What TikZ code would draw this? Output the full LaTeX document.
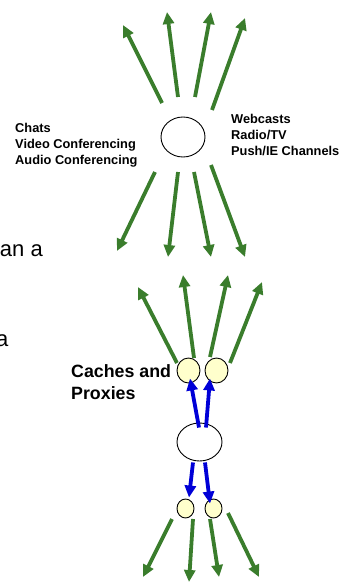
\documentclass[tikz,border=0pt]{standalone}
\usepackage{fontspec}
\setmainfont{Liberation Sans}
\usetikzlibrary{arrows.meta,shapes.geometric}
\definecolor{flowgreen}{RGB}{58,125,44}
\definecolor{flowblue}{RGB}{0,0,215}
\definecolor{cachefill}{RGB}{255,255,204}
\tikzset{
  garrow/.style={draw=flowgreen, line width=3.8pt,
    -{Triangle[length=12pt,width=11pt]}},
  barrow/.style={draw=flowblue, line width=3.8pt,
    -{Triangle[length=12pt,width=11pt]}},
  hub/.style={ellipse, draw=black, line width=0.9pt, fill=white,
    inner sep=0pt},
  cache/.style={ellipse, draw=black, line width=0.9pt, fill=cachefill,
    inner sep=0pt},
  label/.style={font=\bfseries\fontsize{12.8}{15.9}\selectfont,
    align=left, inner sep=0pt, anchor=north west},
  biglabel/.style={font=\bfseries\fontsize{17.8}{22}\selectfont,
    align=left, inner sep=0pt, anchor=north west},
  frag/.style={font=\fontsize{22}{26}\selectfont, inner sep=0pt,
    anchor=base east}
}
\begin{document}
\begin{tikzpicture}[x=1pt,y=-1pt]
\useasboundingbox (0,0) rectangle (345,583);

% ---------- broadcast hub ----------
\node[hub, minimum width=44pt, minimum height=40pt] (hubA) at (183,137) {};

\node[label] (leftText) at (15,123.5)
  {Chats\\Video Conferencing\\Audio Conferencing};
\node[label] (rightText) at (231,114.5)
  {Webcasts\\Radio/TV\\Push/IE Channels};

% outgoing streams, upwards
\coordinate (a1s) at (162,103); \coordinate (a1t) at (123,25);
\coordinate (a2s) at (178,97);  \coordinate (a2t) at (167,12);
\coordinate (a3s) at (195,97);  \coordinate (a3t) at (211,12);
\coordinate (a4s) at (212,110); \coordinate (a4t) at (245,18);
\foreach \i in {1,...,4} \draw[garrow] (a\i s) -- (a\i t);

% outgoing streams, downwards
\coordinate (b1s) at (155,172); \coordinate (b1t) at (117,251);
\coordinate (b2s) at (178,172); \coordinate (b2t) at (168,257);
\coordinate (b3s) at (194,172); \coordinate (b3t) at (211,257);
\coordinate (b4s) at (211,165); \coordinate (b4t) at (245,257);
\foreach \i in {1,...,4} \draw[garrow] (b\i s) -- (b\i t);

% ---------- text running in from the side ----------
\node[frag] (fragA) at (43,256) {an a};
\node[frag] (fragB) at (8.5,346) {a};

% ---------- hub with caches and proxies ----------
\node[cache, minimum width=23pt, minimum height=25pt] (cacheL) at (188.5,370.5) {};
\node[cache, minimum width=23pt, minimum height=25pt] (cacheR) at (216.5,370.5) {};
\node[hub, minimum width=45pt, minimum height=38pt] (hubB) at (199.5,442) {};
\node[cache, minimum width=17pt, minimum height=19pt] (proxL) at (185.5,508.5) {};
\node[cache, minimum width=17pt, minimum height=19pt] (proxR) at (213.5,508.5) {};

\node[biglabel] (cacheText) at (71,364) {Caches and\\Proxies};

% streams leaving the upper caches
\coordinate (c1s) at (177,363); \coordinate (c1t) at (138,287);
\coordinate (c2s) at (194,358); \coordinate (c2t) at (183,275);
\coordinate (c3s) at (210,357); \coordinate (c3t) at (228,275);
\coordinate (c4s) at (230,363); \coordinate (c4t) at (262,282);
\foreach \i in {1,...,4} \draw[garrow] (c\i s) -- (c\i t);

% hub feeding the caches and proxies
\draw[barrow] ([xshift=-0.5pt,yshift=-5pt]hubB.north) -- ([xshift=1.5pt,yshift=5pt]cacheL.south);
\draw[barrow] ([xshift=6.5pt,yshift=-5pt]hubB.north) -- ([xshift=-6.5pt,yshift=5pt]cacheR.south);
\draw[barrow] ([xshift=-6.5pt,yshift=-1pt]hubB.south) -- ([xshift=3.5pt,yshift=1pt]proxL.north);
\draw[barrow] ([xshift=5.5pt,yshift=-1pt]hubB.south) -- ([xshift=-3.5pt,yshift=-5pt]proxR.north);

% streams leaving the lower proxies
\coordinate (d1s) at (172,519); \coordinate (d1t) at (143,577);
\coordinate (d2s) at (193,519); \coordinate (d2t) at (189,582);
\coordinate (d3s) at (210,519); \coordinate (d3t) at (219,577);
\coordinate (d4s) at (228,513); \coordinate (d4t) at (259,577);
\foreach \i in {1,...,4} \draw[garrow] (d\i s) -- (d\i t);
\end{tikzpicture}
\end{document}
